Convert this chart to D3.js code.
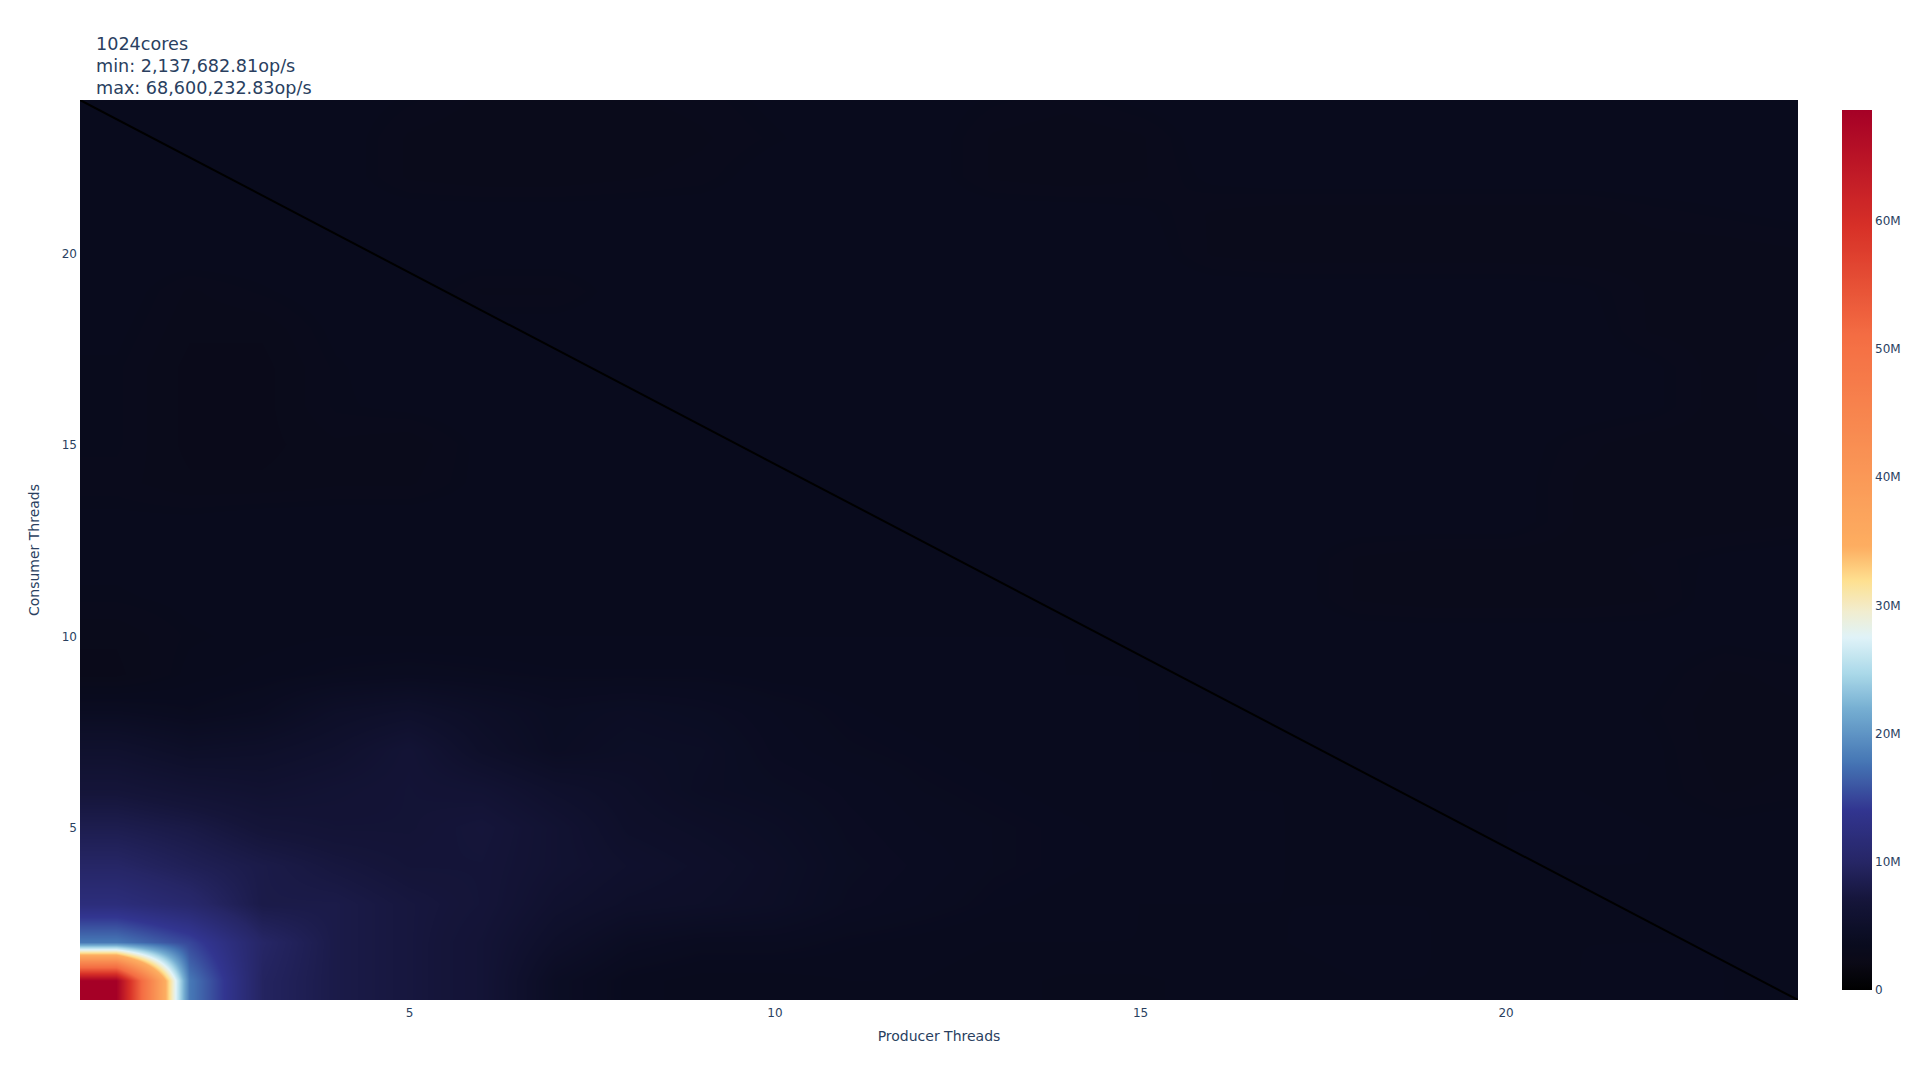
<!DOCTYPE html>
<html>
<head>
<meta charset="utf-8">
<script src="https://cdn.jsdelivr.net/npm/d3@7"></script>
<style>
  html, body { margin: 0; padding: 0; background: #fff; }
  svg { display: block; font-family: "DejaVu Sans", Verdana, sans-serif; }
</style>
</head>
<body>
<svg id="chart" width="1920" height="1080"></svg>
<script>
// ---------------- DATA ----------------
const titleLines = ["1024cores", "min: 2,137,682.81op/s", "max: 68,600,232.83op/s"];
const producerThreads = [1,2,3,4,5,6,7,8,9,10,11,12,13,14,15,16,17,18,19,20,21,22,23,24];
const consumerThreads = [1,2,3,4,5,6,7,8,9,10,11,12,13,14,15,16,17,18,19,20,21,22,23,24];
// throughput in millions of op/s; row k = consumer threads k+1, column = producer threads
const throughputM = [
  [68.6,18.0,9.6,8.0,7.3,6.5,4.2,3.5,3.3,3.3,3.4,3.4,3.3,3.2,3.2,3.3,3.3,3.4,3.4,3.4,3.4,3.5,3.4,3.4],
  [18.0,15.0,10.0,8.0,7.3,6.5,5.0,4.1,3.8,3.8,3.6,3.5,3.4,3.4,3.4,3.4,3.4,3.5,3.4,3.4,3.4,3.4,3.4,3.4],
  [12.0,10.6,8.0,8.0,7.3,6.8,5.6,5.0,4.8,4.5,4.0,3.8,3.6,3.5,3.4,3.4,3.4,3.4,3.4,3.4,3.4,3.4,3.4,3.4],
  [10.0,8.9,8.0,7.3,6.8,6.8,6.0,5.4,5.0,4.6,4.1,3.9,3.7,3.6,3.5,3.5,3.4,3.4,3.4,3.4,3.4,3.4,3.4,3.4],
  [8.4,7.8,6.8,6.5,6.5,7.0,6.0,5.0,4.7,4.4,4.0,3.8,3.7,3.6,3.5,3.5,3.4,3.4,3.4,3.4,3.5,3.4,3.3,3.4],
  [6.8,6.2,5.8,6.2,6.5,6.2,5.3,4.8,4.3,4.1,3.9,3.7,3.6,3.5,3.5,3.4,3.4,3.4,3.4,3.4,3.4,3.3,3.0,3.1],
  [5.5,4.8,5.0,5.5,6.4,5.0,4.2,4.5,4.4,3.9,3.7,3.6,3.5,3.5,3.4,3.4,3.4,3.4,3.4,3.4,3.4,3.3,2.9,3.0],
  [4.0,3.7,4.0,4.8,5.2,4.6,4.1,4.3,4.1,3.8,3.6,3.5,3.5,3.5,3.4,3.4,3.4,3.4,3.4,3.4,3.4,3.2,2.9,3.0],
  [2.8,3.3,3.5,3.7,3.8,3.7,3.6,3.6,3.6,3.5,3.5,3.5,3.5,3.4,3.4,3.4,3.4,3.4,3.4,3.4,3.4,3.3,3.0,3.1],
  [2.9,3.2,3.3,3.4,3.4,3.4,3.4,3.4,3.4,3.4,3.4,3.4,3.4,3.4,3.4,3.4,3.4,3.4,3.4,3.4,3.4,3.4,3.3,3.4],
  [3.2,3.3,3.4,3.4,3.4,3.4,3.4,3.4,3.4,3.4,3.4,3.4,3.4,3.4,3.4,3.4,3.4,3.0,2.9,2.9,2.9,3.0,3.4,3.4],
  [3.3,3.4,3.4,3.4,3.4,3.4,3.4,3.4,3.4,3.4,3.4,3.4,3.4,3.4,3.4,3.4,3.4,3.0,2.9,2.9,2.9,3.1,3.3,3.4],
  [3.3,3.3,3.4,3.4,3.4,3.4,3.4,3.4,3.4,3.4,3.4,3.4,3.4,3.4,3.4,3.4,3.4,3.4,3.4,3.4,3.0,2.9,2.9,3.0],
  [3.1,2.9,2.9,3.0,3.0,3.3,3.4,3.4,3.4,3.4,3.4,3.4,3.4,3.4,3.4,3.4,3.4,3.4,3.4,3.4,3.0,2.9,2.9,2.9],
  [3.2,2.8,2.8,3.0,2.9,3.3,3.4,3.4,3.4,3.4,3.4,3.4,3.4,3.4,3.4,3.4,3.4,3.4,3.4,3.4,3.1,2.9,2.9,3.0],
  [3.2,2.8,2.8,3.2,3.3,3.4,3.4,3.4,3.4,3.4,3.4,3.4,3.4,3.4,3.4,3.4,3.4,3.4,3.4,3.4,3.4,3.3,2.9,3.2],
  [3.2,2.8,2.8,3.2,3.4,3.4,3.4,3.4,3.4,3.4,3.4,3.4,3.4,3.4,3.4,3.4,3.4,3.4,3.4,3.4,3.4,3.3,2.9,3.2],
  [3.3,2.9,2.9,3.3,3.4,3.4,3.4,3.4,3.4,3.4,3.4,3.4,3.4,3.4,3.4,3.4,3.4,3.4,3.4,3.4,3.4,3.0,2.9,3.0],
  [3.4,3.0,3.2,3.4,3.4,3.0,3.0,3.4,3.4,3.4,3.4,3.4,3.4,3.4,3.4,3.4,3.4,3.4,3.4,3.4,3.3,3.0,2.9,3.0],
  [3.4,3.4,3.4,3.4,3.4,3.4,3.4,3.4,3.4,3.4,3.4,3.4,3.4,3.4,3.4,3.0,2.9,2.9,2.9,2.9,2.9,2.9,2.9,3.0],
  [3.4,3.4,3.4,3.4,3.4,3.4,3.4,3.4,3.4,3.4,3.4,3.4,3.4,3.4,3.3,3.0,2.9,2.9,2.9,2.9,2.9,3.1,3.2,3.3],
  [3.4,3.4,3.4,3.4,3.0,2.9,2.9,3.0,3.1,3.4,3.4,3.4,3.0,2.9,3.0,3.3,3.4,3.4,3.4,3.4,3.4,3.4,3.4,3.4],
  [3.4,3.4,3.4,3.4,3.0,2.9,2.9,2.9,3.0,3.2,3.4,3.4,3.0,2.9,3.0,3.4,3.4,3.4,3.4,3.4,3.4,3.4,3.4,3.4],
  [3.4,3.4,3.4,3.4,3.2,3.0,3.0,3.0,3.1,3.3,3.4,3.4,3.2,3.1,3.3,3.4,3.4,3.4,3.4,3.4,3.4,3.4,3.4,3.4]
];
const xTickValues = [5, 10, 15, 20];
const yTickValues = [5, 10, 15, 20];
const colorbarTickValues = [0, 10, 20, 30, 40, 50, 60];
const colorbarTickLabels = ["0", "10M", "20M", "30M", "40M", "50M", "60M"];
const zMinM = 0, zMaxM = 68.6;
// colorscale stops (value in M op/s -> colour)
const scaleStopValues = [0, 2.2, 3.5, 7, 10, 14, 17.7, 21.8, 24.7, 27.5, 29.5, 31.9, 34.5, 51, 59.5, 68.6];
const scaleStopColors = ["#000000","#0b0a17","#090b1e","#15153a","#262666","#323590","#4575b4","#74add1",
                         "#abd9e9","#e0f3f8","#f1edcf","#fee090","#fdae61","#f46d43","#d73027","#a50026"];
const diagonalX = [0.5, 24];
const diagonalY = [24, 0.5];

// ---------------- LAYOUT ----------------
const svg = d3.select("#chart");
const plot = { left: 80, top: 100, width: 1718, height: 900 };
const textColor = "#2a3f5f";

const xScale = d3.scaleLinear().domain([0.5, 24]).range([plot.left, plot.left + plot.width]);
const yScale = d3.scaleLinear().domain([0.5, 24]).range([plot.top + plot.height, plot.top]);
const colorScale = d3.scaleLinear().domain(scaleStopValues).range(scaleStopColors)
  .interpolate(d3.interpolateRgb).clamp(true);

// ---------------- HEATMAP (smoothed, bilinear between cell centres) ----------------
const canvas = document.createElement("canvas");
canvas.width = plot.width; canvas.height = plot.height;
const ctx = canvas.getContext("2d");
const img = ctx.createImageData(plot.width, plot.height);
const LUTN = 2048;
const lut = [];
for (let k = 0; k < LUTN; k++) {
  const c = d3.rgb(colorScale(zMinM + (zMaxM - zMinM) * k / (LUTN - 1)));
  lut.push([c.r, c.g, c.b]);
}
const nx = producerThreads.length, ny = consumerThreads.length;
const xIdx = d3.scaleLinear().domain([producerThreads[0], producerThreads[nx-1]]).range([0, nx-1]).clamp(true);
const yIdx = d3.scaleLinear().domain([consumerThreads[0], consumerThreads[ny-1]]).range([0, ny-1]).clamp(true);
const colI0 = [], colF = [];
for (let px = 0; px < plot.width; px++) {
  const fx = xIdx(xScale.invert(plot.left + px + 0.5));
  const i0 = Math.min(Math.floor(fx), nx - 2);
  colI0.push(i0); colF.push(fx - i0);
}
for (let py = 0; py < plot.height; py++) {
  const fy = yIdx(yScale.invert(plot.top + py + 0.5));
  const j0 = Math.min(Math.floor(fy), ny - 2);
  const ty = fy - j0;
  const r0 = throughputM[j0], r1 = throughputM[j0 + 1];
  for (let px = 0; px < plot.width; px++) {
    const i0 = colI0[px], tx = colF[px];
    const a = r0[i0] * (1 - tx) + r0[i0 + 1] * tx;
    const b = r1[i0] * (1 - tx) + r1[i0 + 1] * tx;
    const v = a * (1 - ty) + b * ty;
    let k = Math.round((v - zMinM) / (zMaxM - zMinM) * (LUTN - 1));
    k = Math.max(0, Math.min(LUTN - 1, k));
    const c = lut[k];
    const o = (py * plot.width + px) * 4;
    img.data[o] = c[0]; img.data[o+1] = c[1]; img.data[o+2] = c[2]; img.data[o+3] = 255;
  }
}
ctx.putImageData(img, 0, 0);
svg.append("image")
  .attr("x", plot.left).attr("y", plot.top)
  .attr("width", plot.width).attr("height", plot.height)
  .attr("preserveAspectRatio", "none")
  .attr("href", canvas.toDataURL("image/png"));

// diagonal line
svg.append("defs").append("clipPath").attr("id", "plotclip")
  .append("rect").attr("x", plot.left).attr("y", plot.top).attr("width", plot.width).attr("height", plot.height);
svg.append("path")
  .datum(diagonalX.map((x, i) => [x, diagonalY[i]]))
  .attr("clip-path", "url(#plotclip)")
  .attr("d", d3.line().x(d => xScale(d[0])).y(d => yScale(d[1])))
  .attr("fill", "none").attr("stroke", "#000").attr("stroke-width", 2);

// ---------------- AXES ----------------
const xAxis = svg.append("g").attr("transform", `translate(0,${plot.top + plot.height})`)
  .call(d3.axisBottom(xScale).tickValues(xTickValues).tickSize(0).tickPadding(8));
const yAxis = svg.append("g").attr("transform", `translate(${plot.left},0)`)
  .call(d3.axisLeft(yScale).tickValues(yTickValues).tickSize(0).tickPadding(3));
[xAxis, yAxis].forEach(g => {
  g.select(".domain").remove();
  g.selectAll("text").attr("fill", textColor).style("font-size", "12px")
    .style("font-family", '"DejaVu Sans", Verdana, sans-serif');
});

svg.append("text").attr("x", plot.left + plot.width / 2).attr("y", 1041)
  .attr("text-anchor", "middle").attr("fill", textColor).style("font-size", "14px")
  .text("Producer Threads");
svg.append("text").attr("transform", `translate(39,${plot.top + plot.height / 2}) rotate(-90)`)
  .attr("text-anchor", "middle").attr("fill", textColor).style("font-size", "14px")
  .text("Consumer Threads");

// ---------------- TITLE ----------------
const title = svg.append("text").attr("fill", textColor).style("font-size", "17.6px");
titleLines.forEach((t, i) => {
  title.append("tspan").attr("x", 96).attr("y", 50.3 + i * 22).text(t);
});

// ---------------- COLORBAR ----------------
const cb = { x: 1842, width: 30, top: 110, bottom: 990 };
const cbScale = d3.scaleLinear().domain([zMinM, zMaxM]).range([cb.bottom, cb.top]);
const grad = svg.select("defs").append("linearGradient").attr("id", "cbgrad")
  .attr("x1", 0).attr("y1", 1).attr("x2", 0).attr("y2", 0);
d3.range(0, 201).forEach(k => {
  const v = zMinM + (zMaxM - zMinM) * k / 200;
  grad.append("stop").attr("offset", k / 200).attr("stop-color", colorScale(v));
});
svg.append("rect").attr("x", cb.x).attr("y", cb.top).attr("width", cb.width)
  .attr("height", cb.bottom - cb.top).attr("fill", "url(#cbgrad)");
const cbAxis = svg.append("g").attr("transform", `translate(${cb.x + cb.width},0)`)
  .call(d3.axisRight(cbScale).tickValues(colorbarTickValues)
    .tickFormat((d, i) => colorbarTickLabels[i]).tickSize(0).tickPadding(3));
cbAxis.select(".domain").remove();
cbAxis.selectAll("text").attr("fill", textColor).style("font-size", "12px")
  .style("font-family", '"DejaVu Sans", Verdana, sans-serif');
</script>
</body>
</html>
